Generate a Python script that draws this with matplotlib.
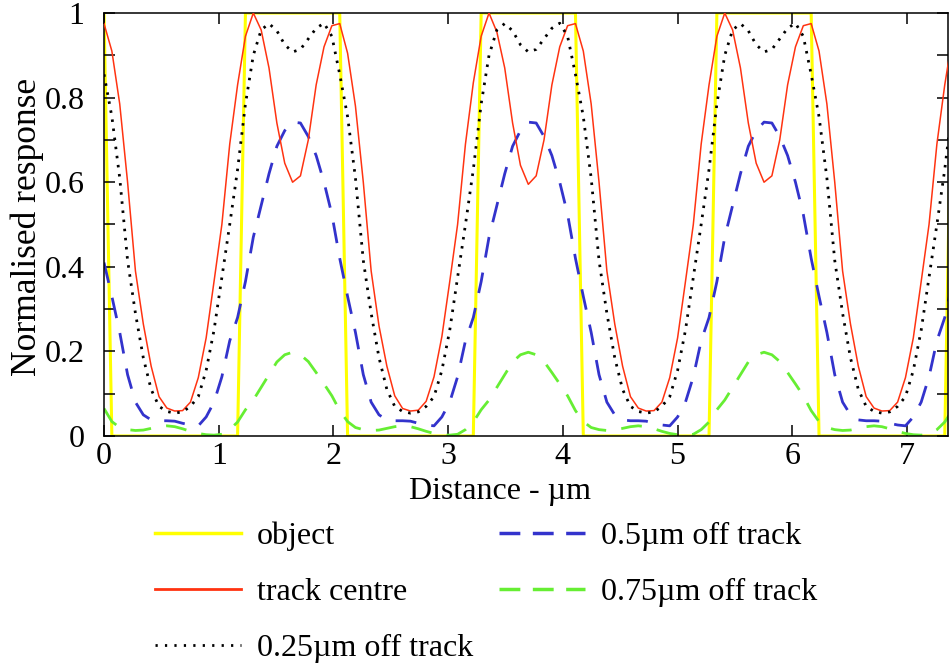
import numpy as np
import matplotlib
matplotlib.use("Agg")
import matplotlib.pyplot as plt
from matplotlib.lines import Line2D

plt.rcParams["font.family"] = ["Liberation Serif", "DejaVu Serif"]

# ---------------------------------------------------------------------------
# Data: sampled responses along the track (sample step 0.0685 um)
# ---------------------------------------------------------------------------
STEP = 0.0685
N_SAMPLES = 109

obj = [
    1, 0, 0, 0, 0, 0, 0, 0, 0, 0, 0, 0, 0, 0, 0, 0, 0, 0, 1, 1, 1, 1, 1, 1, 1, 1, 1, 1, 1, 1,
    1, 0, 0, 0, 0, 0, 0, 0, 0, 0, 0, 0, 0, 0, 0, 0, 0, 0, 1, 1, 1, 1, 1, 1, 1, 1, 1, 1, 1, 1,
    1, 0, 0, 0, 0, 0, 0, 0, 0, 0, 0, 0, 0, 0, 0, 0, 0, 0, 1, 1, 1, 1, 1, 1, 1, 1, 1, 1, 1, 1,
    1, 0, 0, 0, 0, 0, 0, 0, 0, 0, 0, 0, 0, 0, 0, 0, 0, 0, 1,
]

track_centre = [
    0.975, 0.91, 0.785, 0.60, 0.39, 0.265, 0.165, 0.093, 0.066, 0.059,
    0.060, 0.080, 0.138, 0.232, 0.365, 0.50, 0.69, 0.83, 0.945, 1.0,
    0.96, 0.87, 0.74, 0.645, 0.60, 0.615, 0.70, 0.83, 0.92, 0.97,
    0.975, 0.905, 0.78, 0.60, 0.39, 0.26, 0.165, 0.095, 0.065, 0.059,
    0.061, 0.082, 0.14, 0.235, 0.365, 0.50, 0.69, 0.835, 0.945, 1.0,
    0.955, 0.87, 0.74, 0.64, 0.595, 0.615, 0.70, 0.83, 0.92, 0.97,
    0.975, 0.91, 0.785, 0.60, 0.39, 0.265, 0.165, 0.093, 0.066, 0.059,
    0.060, 0.080, 0.138, 0.232, 0.365, 0.50, 0.69, 0.83, 0.945, 1.0,
    0.96, 0.87, 0.74, 0.645, 0.60, 0.615, 0.70, 0.83, 0.92, 0.97,
    0.975, 0.91, 0.785, 0.60, 0.39, 0.265, 0.165, 0.093, 0.066, 0.059,
    0.060, 0.080, 0.138, 0.232, 0.365, 0.50, 0.69, 0.83, 0.945,
]

off_025 = [
    0.855, 0.755, 0.61, 0.415, 0.29, 0.185, 0.11, 0.07, 0.058, 0.054,
    0.057, 0.07, 0.093, 0.155, 0.25, 0.375, 0.50, 0.63, 0.785, 0.90,
    0.96, 0.975, 0.958, 0.925, 0.908, 0.914, 0.939, 0.964, 0.976, 0.945,
    0.855, 0.755, 0.61, 0.415, 0.29, 0.185, 0.11, 0.07, 0.058, 0.054,
    0.057, 0.07, 0.093, 0.155, 0.25, 0.375, 0.50, 0.63, 0.785, 0.90,
    0.96, 0.975, 0.958, 0.925, 0.908, 0.914, 0.939, 0.964, 0.976, 0.945,
    0.855, 0.755, 0.61, 0.415, 0.29, 0.185, 0.11, 0.07, 0.058, 0.054,
    0.057, 0.07, 0.093, 0.155, 0.25, 0.375, 0.50, 0.63, 0.785, 0.90,
    0.96, 0.975, 0.958, 0.925, 0.908, 0.914, 0.939, 0.964, 0.976, 0.945,
    0.855, 0.755, 0.61, 0.415, 0.29, 0.185, 0.11, 0.07, 0.058, 0.054,
    0.057, 0.07, 0.093, 0.155, 0.25, 0.375, 0.50, 0.63, 0.785,
]

off_050 = [
    0.41, 0.33, 0.245, 0.145, 0.08, 0.05, 0.038, 0.036, 0.036, 0.035,
    0.030, 0.026, 0.024, 0.045, 0.08, 0.14, 0.225, 0.28, 0.365, 0.47,
    0.545, 0.62, 0.685, 0.722, 0.742, 0.74, 0.708, 0.663, 0.60, 0.524,
    0.42, 0.33, 0.245, 0.145, 0.08, 0.05, 0.038, 0.036, 0.036, 0.035,
    0.030, 0.026, 0.024, 0.045, 0.08, 0.14, 0.225, 0.28, 0.365, 0.47,
    0.545, 0.62, 0.685, 0.722, 0.742, 0.74, 0.708, 0.663, 0.60, 0.524,
    0.42, 0.33, 0.245, 0.145, 0.08, 0.05, 0.038, 0.036, 0.036, 0.035,
    0.030, 0.026, 0.024, 0.045, 0.08, 0.14, 0.225, 0.28, 0.365, 0.47,
    0.545, 0.62, 0.685, 0.722, 0.742, 0.74, 0.708, 0.663, 0.60, 0.524,
    0.42, 0.33, 0.245, 0.145, 0.08, 0.05, 0.038, 0.036, 0.036, 0.035,
    0.030, 0.026, 0.024, 0.045, 0.08, 0.14, 0.225, 0.28, 0.365,
]

off_075 = [
    0.065, 0.034, 0.02, 0.015, 0.013, 0.014, 0.018, 0.022, 0.024, 0.022,
    0.017, 0.011, 0.006, 0.003, 0.002, 0.004, 0.015, 0.033, 0.062, 0.085,
    0.115, 0.145, 0.175, 0.192, 0.198, 0.192, 0.176, 0.15, 0.123, 0.095,
    0.06, 0.034, 0.02, 0.015, 0.013, 0.014, 0.018, 0.022, 0.024, 0.022,
    0.017, 0.011, 0.006, 0.003, 0.002, 0.004, 0.015, 0.033, 0.062, 0.085,
    0.115, 0.145, 0.175, 0.192, 0.198, 0.192, 0.176, 0.15, 0.123, 0.095,
    0.06, 0.034, 0.02, 0.015, 0.013, 0.014, 0.018, 0.022, 0.024, 0.022,
    0.017, 0.011, 0.006, 0.003, 0.002, 0.004, 0.015, 0.033, 0.062, 0.085,
    0.115, 0.145, 0.175, 0.192, 0.198, 0.192, 0.176, 0.15, 0.123, 0.095,
    0.06, 0.034, 0.02, 0.015, 0.013, 0.014, 0.018, 0.022, 0.024, 0.022,
    0.017, 0.011, 0.006, 0.003, 0.002, 0.004, 0.015, 0.033, 0.062,
]

labels = ["object", "track centre", "0.25\u00b5m off track",
          "0.5\u00b5m off track", "0.75\u00b5m off track"]
x_ticks = [0, 1, 2, 3, 4, 5, 6, 7]
y_ticks = [0, 0.2, 0.4, 0.6, 0.8, 1]
y_tick_labels = ["0", "0.2", "0.4", "0.6", "0.8", "1"]

x = np.arange(N_SAMPLES) * STEP

# ---------------------------------------------------------------------------
# Styles
# ---------------------------------------------------------------------------
FS = 23
YELLOW, RED, BLUE, GREEN = "#ffff00", "#ff3311", "#3333cc", "#66ee33"
DOTS = (0, (0.9, 2.4))
DASHES = (0, (7.5, 5.5))

fig = plt.figure(figsize=(9.49, 6.64), dpi=100)
ax = fig.add_axes([0.1096, 0.3434, 0.889, 0.637])

ax.plot(x, obj, color=YELLOW, lw=2.2, zorder=1)
ax.plot(x, track_centre, color=RED, lw=1.1, zorder=3)
ax.plot(x, off_025, color="black", lw=2.0, linestyle=DOTS, zorder=4)
ax.plot(x, off_050, color=BLUE, lw=2.0, linestyle=DASHES, zorder=2)
ax.plot(x, off_075, color=GREEN, lw=2.0, linestyle=DASHES, zorder=2)

ax.set_xlim(0, 7.355)
ax.set_ylim(0, 1)
ax.set_xticks(x_ticks)
ax.set_yticks(y_ticks)
ax.set_yticklabels(y_tick_labels)
ax.set_yticks([0.1, 0.3, 0.5, 0.7, 0.9], minor=True)
ax.tick_params(which="both", direction="in", top=True, right=True,
               length=8, width=1.1, labelsize=FS)
ax.tick_params(axis="x", pad=4)
ax.tick_params(axis="y", pad=14)
for s in ax.spines.values():
    s.set_linewidth(1.1)

ax.set_xlabel("Distance - \u00b5m", fontsize=FS)
ax.xaxis.set_label_coords(0.469, -0.097)
ax.set_ylabel("Normalised response", fontsize=25.5)
ax.yaxis.set_label_coords(-0.071, 0.494)

handles = [
    Line2D([], [], color=YELLOW, lw=2.5),
    Line2D([], [], color=RED, lw=2.0),
    Line2D([], [], color="black", lw=2.0, linestyle=(0, (0.8, 2.6))),
    Line2D([], [], color=BLUE, lw=2.5, linestyle=(0, (6, 3.6))),
    Line2D([], [], color=GREEN, lw=2.5, linestyle=(0, (6, 3.6))),
]
fig.legend(handles, labels, loc="upper left", bbox_to_anchor=(0.163, 0.2145),
           ncol=2, frameon=False, fontsize=FS, handlelength=2.7,
           handletextpad=0.5, columnspacing=0.8, labelspacing=0.83,
           borderpad=0, borderaxespad=0)

fig.savefig("out.png", dpi=100)
